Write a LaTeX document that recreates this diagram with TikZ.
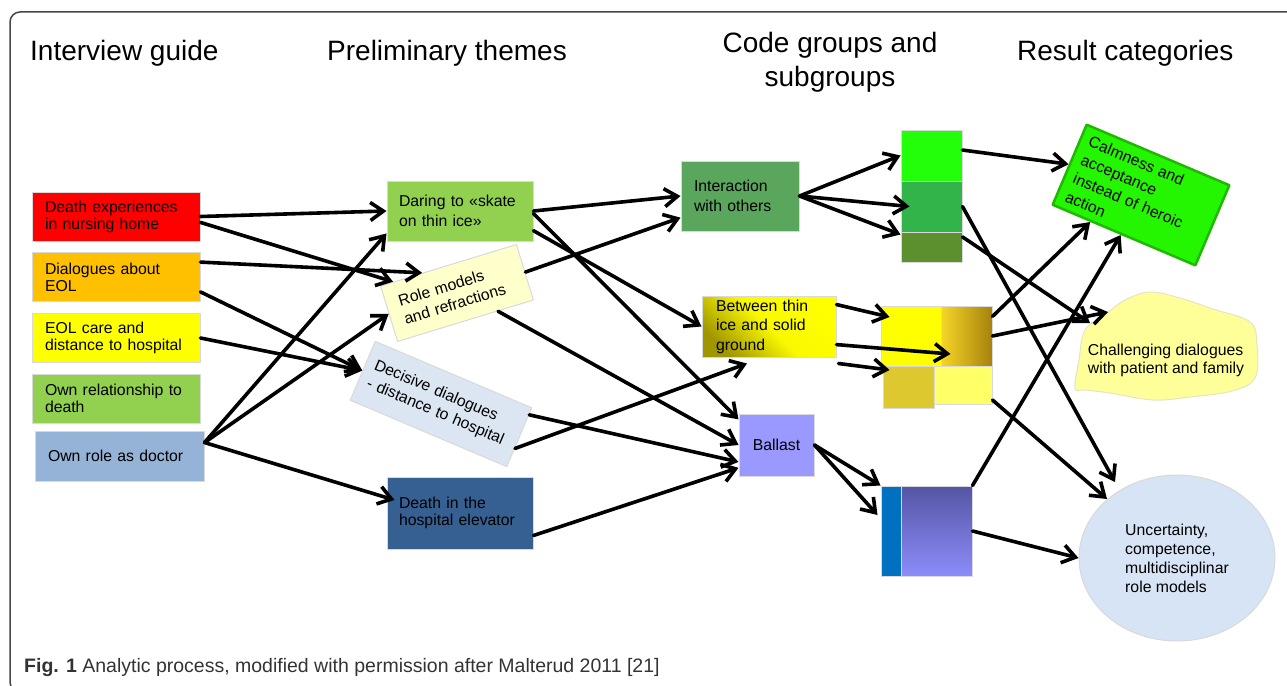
\documentclass[tikz,border=0pt]{standalone}
\usepackage{fontspec}
\setmainfont{Liberation Sans}
\usetikzlibrary{arrows.meta,shapes.geometric}
\definecolor{cFrame}{RGB}{70,70,70}
\definecolor{cEdge}{RGB}{217,217,217}
\definecolor{cRed}{RGB}{255,0,0}
\definecolor{cOrange}{RGB}{255,192,0}
\definecolor{cYellow}{RGB}{255,255,0}
\definecolor{cGreen}{RGB}{146,208,80}
\definecolor{cBlue}{RGB}{149,179,215}
\definecolor{cPale}{RGB}{255,255,204}
\definecolor{cIce}{RGB}{220,230,242}
\definecolor{cNavy}{RGB}{55,96,146}
\definecolor{cInter}{RGB}{90,166,92}
\definecolor{cOlive}{RGB}{160,150,0}
\definecolor{cBallast}{RGB}{153,153,255}
\definecolor{cLime}{RGB}{34,255,8}
\definecolor{cMid}{RGB}{51,180,74}
\definecolor{cMoss}{RGB}{92,143,45}
\definecolor{cGoldA}{RGB}{246,214,40}
\definecolor{cGoldB}{RGB}{166,130,12}
\definecolor{cMustard}{RGB}{222,200,48}
\definecolor{cLemon}{RGB}{255,255,102}
\definecolor{cRoyal}{RGB}{0,112,192}
\definecolor{cPurA}{RGB}{85,85,165}
\definecolor{cPurB}{RGB}{140,140,250}
\definecolor{cCalm}{RGB}{36,245,0}
\definecolor{cCalmEdge}{RGB}{30,185,0}
\definecolor{cCloud}{RGB}{255,255,153}
\definecolor{cBubble}{RGB}{214,228,245}
\definecolor{cCap}{RGB}{51,51,51}
\begin{document}
\begin{tikzpicture}[line join=round,line cap=round,x=1pt,y=-1pt,
  >={Straight Barb[length=13pt,width=18pt]}]
\tikzset{
  box/.style={draw=cEdge,line width=1pt,inner sep=0pt,align=left,font=\fontsize{15.8}{17}\selectfont},
  wide/.style={font=\fontsize{15.8}{19.5}\selectfont},
  head/.style={inner sep=0pt,font=\fontsize{28}{34}\selectfont},
  sub/.style={draw=cEdge,line width=1pt,inner sep=0pt},
  arr/.style={->,line width=3.6pt}
}
\useasboundingbox (0,0) rectangle (1287,685);
\draw[cFrame,line width=1.5pt,rounded corners=10pt] (10,12) rectangle (1300,692);

\node[head,anchor=base west] (guide) at (30,60) {Interview guide};
\node[head,anchor=base west] (prelim) at (327,60) {Preliminary themes};
\node[head,align=center] (codes) at (830,62) {Code groups and\\subgroups};
\node[head,anchor=base west] (results) at (1017,60) {Result categories};

\foreach \n/\c/\y/\t in {nursing/cRed/216.5/Death experiences\\in nursing home,
  dialog/cOrange/277/Dialogues about\\EOL,
  care/cYellow/338/EOL care and\\distance to hospital,
  relation/cGreen/398.5/Own relationship to\\death}
  \node[box,fill=\c,minimum width=168pt,minimum height=49pt,text width=142pt] (\n) at (116,\y) {\t};
\node[box,fill=cBlue,minimum width=169pt,minimum height=50pt,text width=143pt] (doctor) at (119.5,456) {Own role as doctor};

\node[box,wide,fill=cGreen,minimum width=146pt,minimum height=60pt,text width=122pt] (daring) at (460,211) {Daring to «skate\\on thin ice»};
\node[box,wide,fill=cPale,rotate=17,minimum width=142pt,minimum height=58pt,text width=116pt] (role) at (457,293) {Role models\\and refractions};
\node[box,wide,fill=cIce,rotate=-23,minimum width=170pt,minimum height=64pt,text width=152pt] (decisive) at (441,404) {Decisive dialogues\\- distance to hospital};
\node[box,fill=cNavy,minimum width=146pt,minimum height=72pt,text width=122pt] (elevator) at (460,513) {Death in the\\hospital elevator};

\node[box,wide,fill=cInter,minimum width=118pt,minimum height=70pt,text width=92pt] (inter) at (740,196) {Interaction\\with others};
\node[box,wide,top color=cOlive,bottom color=cYellow,middle color=cYellow!94!cOlive,shading angle=135,minimum width=134pt,minimum height=61pt,text width=106pt] (between) at (769,326.5) {Between thin\\ice and solid\\ground};
\node[box,fill=cBallast,align=center,minimum width=75pt,minimum height=62pt] (ballast) at (776.5,445) {Ballast};

\foreach \n/\c/\x/\y/\w/\h in {lime/cLime/931.5/155.5/61/51,
  mid/cMid/931.5/206.5/61/51,
  moss/cMoss/931.5/247/61/30,
  sun/cYellow/911/336/60/60,
  mustard/cMustard/908.5/387/51/42,
  lemon/cLemon/963/385/58/38,
  royal/cRoyal/891/531/20/90}
  \node[sub,fill=\c,minimum width=\w pt,minimum height=\h pt] (\n) at (\x,\y) {};
\node[sub,left color=cGoldA,right color=cGoldB,minimum width=51pt,minimum height=60pt] (gold) at (966.5,336) {};
\node[sub,top color=cPurA,bottom color=cPurB,minimum width=71pt,minimum height=90pt] (violet) at (936.5,531) {};

\node[box,rotate=-23,fill=cCalm,draw=cCalmEdge,line width=2.5pt,minimum width=155pt,minimum height=87pt,text width=137pt,font=\fontsize{15.8}{20}\selectfont] (calm) at (1141,195) {Calmness and\\acceptance\\instead of heroic\\action};
\draw[fill=cCloud,draw=cEdge!70!cCloud,line width=1pt] plot[smooth cycle,tension=0.6] coordinates {(1107,313) (1125,300) (1150,292) (1180,298) (1213,309) (1250,322) (1257,345) (1255,378) (1232,391) (1190,397) (1153,400) (1110,393) (1085,390) (1075,388) (1079,360) (1085,330)};
\node[inner sep=0pt,align=left,font=\fontsize{15.8}{18}\selectfont] (challenge) at (1166,360) {Challenging dialogues\\with patient and family};
\node[ellipse,draw=cEdge,fill=cBubble,line width=1pt,minimum width=196pt,minimum height=166pt,inner sep=0pt,align=left,font=\fontsize{15.8}{19}\selectfont] (uncert) at (1177,558) {Uncertainty,\\competence,\\multidisciplinar\\role models};

\draw[arr] (nursing.east) -- (daring.west);
\draw[arr] (nursing.-4) -- (role.153);
\draw[arr] (dialog.10) -- (role.133);
\draw[arr] (dialog.-10) -- (decisive.west);
\draw[arr] (care.east) -- (decisive.west);
\draw[arr] (doctor.9) -- (daring.197);
\draw[arr] (doctor.9) -- (role.west);
\draw[arr] (doctor.9) -- ([shift={(8,-13)}]elevator.west);
\draw[arr] (daring.east) -- (inter.west);
\draw[arr] (daring.-2) -- (ballast.146);
\draw[arr] (daring.-15) -- (between.west);
\draw[arr] (role.east) -- (inter.200);
\draw[arr] (role.319) -- (ballast.west);
\draw[arr] (decisive.16) -- (ballast.204);
\draw[arr] (decisive.352) -- ([shift={(-22,6)}]between.south);
\draw[arr] (elevator.-17) -- (ballast.211);
\draw[arr] (inter.east) -- (lime.west);
\draw[arr] (inter.east) -- ([xshift=9pt]mid.west);
\draw[arr] (inter.east) -- ([shift={(0,3)}]moss.north west);
\draw[arr] (between.18) -- ([shift={(9,-19)}]sun.west);
\draw[arr] (between.-15) -- ([shift={(10,18)}]gold.west);
\draw[arr] ([shift={(2,6)}]between.south east) -- ([shift={(7,-17)}]mustard.west);
\draw[arr] (ballast.east) -- (royal.north west);
\draw[arr] (ballast.east) -- ([shift={(-3,-16)}]royal.west);
\draw[arr] (lime.10) -- (calm.west);
\draw[arr] (mid.east) -- ([shift={(-62,-76)}]uncert.center);
\draw[arr] (moss.18) -- ([shift={(-76,-37)}]challenge.center);
\draw[arr] (gold.37) -- (calm.231);
\draw[arr] (gold.east) -- ([shift={(-58,-48)}]challenge.center);
\draw[arr] (lemon.-27) -- ([shift={(-70,-59)}]uncert.center);
\draw[arr] (violet.north east) -- (calm.266);
\draw[arr] (violet.east) -- (uncert.west);

\node[anchor=base west,inner sep=0pt,text=cCap,font=\fontsize{19.5}{22}\selectfont] (caption) at (24,672) {\textbf{Fig. 1} Analytic process, modified with permission after Malterud 2011 [21]};
\end{tikzpicture}
\end{document}
